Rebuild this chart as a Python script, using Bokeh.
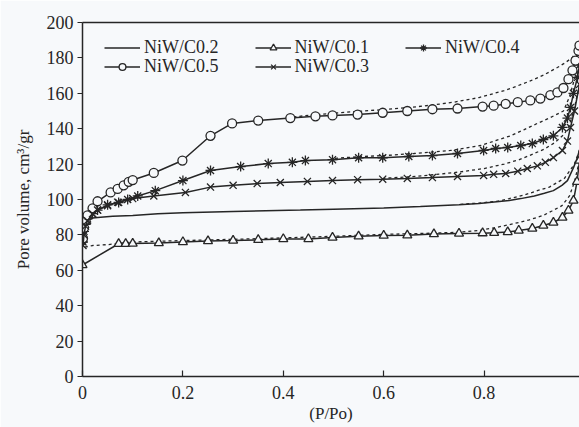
from bokeh.plotting import figure
from bokeh.models import Legend, LegendItem, LinearAxis, Range1d, FixedTicker
from bokeh.embed import file_html
from bokeh.resources import INLINE

# ---------------- data ----------------
c05_p = [0.001, 0.003, 0.006, 0.01, 0.02, 0.03, 0.056, 0.07, 0.082, 0.092, 0.10, 0.142, 0.199, 0.255, 0.298, 0.35, 0.414, 0.464, 0.498, 0.548, 0.598, 0.647, 0.697, 0.747, 0.797, 0.819, 0.843, 0.867, 0.892, 0.912, 0.932, 0.946, 0.958, 0.968, 0.976, 0.982, 0.988, 0.99]
c05_v = [78, 84, 88, 91, 95, 99, 104, 106, 108, 110, 111, 115, 122, 136, 143, 144.6, 146, 147, 147.5, 148, 149, 150, 151, 151.4, 152.5, 153, 154, 155, 156, 157, 159, 160.5, 163, 168, 173, 178.5, 184, 187]
c05_dp = [0.99, 0.985, 0.975, 0.96, 0.946, 0.92, 0.892, 0.86, 0.84, 0.79, 0.74, 0.7, 0.653, 0.6, 0.55, 0.5, 0.45, 0.414]
c05_dv = [187, 184, 180, 177, 174.6, 170.5, 167, 163.5, 161.5, 157.6, 155, 153.5, 152, 150.8, 149.8, 148.8, 147.5, 146.5]

c04_p = [0.001, 0.003, 0.006, 0.01, 0.02, 0.03, 0.05, 0.072, 0.09, 0.11, 0.145, 0.2, 0.255, 0.315, 0.37, 0.418, 0.444, 0.498, 0.55, 0.598, 0.65, 0.697, 0.747, 0.799, 0.823, 0.847, 0.873, 0.896, 0.918, 0.938, 0.956, 0.966, 0.972, 0.978, 0.986, 0.99]
c04_v = [76, 82, 86, 89, 92, 94, 97, 98.3, 100, 102, 105, 110.7, 116.4, 118.6, 120.3, 121, 122, 122.5, 123.6, 123.6, 124.3, 124.8, 126, 127.7, 128.8, 129.4, 130.5, 131.6, 133.9, 136, 140.7, 146, 152, 160, 169, 176]
c04_dp = [0.99, 0.98, 0.97, 0.958, 0.93, 0.906, 0.88, 0.853, 0.82, 0.793, 0.733, 0.66, 0.6, 0.55, 0.5]
c04_dv = [176, 168, 158, 150, 146, 143, 139.5, 136, 133, 130.5, 127.7, 126, 124.8, 124.2, 123.2]

c03_p = [0.001, 0.003, 0.006, 0.01, 0.02, 0.03, 0.05, 0.07, 0.1, 0.142, 0.205, 0.255, 0.3, 0.348, 0.394, 0.448, 0.498, 0.548, 0.598, 0.647, 0.697, 0.747, 0.799, 0.819, 0.843, 0.867, 0.886, 0.906, 0.922, 0.938, 0.956, 0.966, 0.972, 0.98, 0.99]
c03_v = [74, 80, 85, 88, 92, 94, 96.5, 98.5, 100.5, 102, 104, 107, 108, 109, 109.6, 110.2, 110.7, 111.2, 111.5, 111.9, 112.4, 113, 113.6, 114.2, 114.7, 116, 117.5, 119, 121, 123.7, 127.7, 133, 140.7, 150, 165]
c03_dp = [0.99, 0.98, 0.97, 0.96, 0.94, 0.92, 0.9, 0.87, 0.84, 0.8, 0.75, 0.7, 0.65, 0.6]
c03_dv = [165, 152, 142, 137, 132, 128.5, 126, 122.5, 120, 117.5, 115.5, 114, 112.8, 112]

c02_p = [0.0, 0.003, 0.006, 0.01, 0.02, 0.036, 0.06, 0.1, 0.15, 0.2, 0.3, 0.434, 0.5, 0.6, 0.673, 0.75, 0.79, 0.85, 0.873, 0.9, 0.92, 0.938, 0.955, 0.966, 0.978, 0.985, 0.99]
c02_v = [78, 83, 86, 88, 89.5, 90, 90.5, 91, 92, 92.5, 93.2, 94, 94.5, 95.2, 96, 97, 97.7, 99.5, 100.5, 102, 103.5, 105, 108, 110.7, 118, 123, 128]
c02_dp = [0.99, 0.98, 0.96, 0.93, 0.906, 0.88, 0.85, 0.827, 0.79, 0.75]
c02_dv = [128, 120, 112, 107, 105, 102.5, 100.5, 99, 98, 97.2]

c01_p = [0.0, 0.072, 0.086, 0.1, 0.152, 0.2, 0.25, 0.3, 0.35, 0.4, 0.45, 0.498, 0.55, 0.6, 0.647, 0.7, 0.75, 0.797, 0.82, 0.847, 0.869, 0.896, 0.918, 0.938, 0.956, 0.968, 0.978, 0.985, 0.99]
c01_v = [63, 75, 75, 75.1, 75.4, 76, 76.5, 76.8, 77.2, 77.7, 77.7, 78.5, 79.2, 79.6, 79.8, 80.5, 80.8, 81, 81.2, 81.6, 82.5, 83.6, 85.3, 87, 89.8, 93.8, 99.4, 110, 122]
c01_dp = [0.99, 0.98, 0.97, 0.955, 0.935, 0.918, 0.89, 0.86, 0.82, 0.79, 0.75, 0.7, 0.6, 0.5, 0.4, 0.3, 0.2, 0.1, 0.05, 0.02, 0.003]
c01_dv = [122, 110, 102, 96.5, 93.5, 91, 88.5, 86.4, 84, 82.5, 81.5, 81, 80.3, 79.2, 78.3, 77.5, 76.8, 76, 74.5, 74, 73]

x_ticks = [0, 0.2, 0.4, 0.6, 0.8]
y_ticks = [0, 20, 40, 60, 80, 100, 120, 140, 160, 180, 200]

# ---------------- style ----------------
INK = "#262626"
BG = "#f7f9fb"
FONT = "Liberation Serif"

p = figure(width=579, height=427, output_backend="svg", toolbar_location=None,
           x_range=Range1d(0, 0.99), y_range=Range1d(0, 200),
           min_border_left=82, min_border_right=0, min_border_top=22, min_border_bottom=51)
p.background_fill_color = BG
p.border_fill_color = BG
p.outline_line_color = None
p.grid.visible = False

for ax in (p.xaxis[0], p.yaxis[0]):
    ax.axis_line_color = INK
    ax.axis_line_width = 1.5
    ax.major_tick_line_color = INK
    ax.major_tick_line_width = 1.2
    ax.minor_tick_line_color = None
    ax.major_label_text_font = FONT
    ax.major_label_text_font_size = "18px"
    ax.major_label_text_color = INK
    ax.axis_label_text_font = FONT
    ax.axis_label_text_font_size = "17px"
    ax.axis_label_text_font_style = "normal"
    ax.axis_label_text_color = INK

p.xaxis.ticker = FixedTicker(ticks=x_ticks)
p.yaxis.ticker = FixedTicker(ticks=y_ticks)
p.xaxis.major_label_overrides = {0: "0"}
p.xaxis.major_tick_in = 6
p.xaxis.major_tick_out = 0
p.xaxis.major_label_standoff = 9
p.xaxis.axis_label = "(P/Po)"
p.xaxis.axis_label_standoff = 2
p.yaxis.major_tick_in = 0
p.yaxis.major_tick_out = 5
p.yaxis.major_label_standoff = 4
p.yaxis.axis_label = "Pore volume, cm³/gr"
p.yaxis.axis_label_standoff = 11

top = LinearAxis(ticker=FixedTicker(ticks=[]), axis_line_color=INK, axis_line_width=1.5,
                 major_label_text_font_size="0px", major_tick_line_color=None,
                 minor_tick_line_color=None)
p.add_layout(top, "above")

LW = 1.5
DASH = "3 3"

def series(ap, av, dp, dv, marker, size):
    p.line(dp, dv, line_color=INK, line_width=1.3, line_dash=DASH)
    l = p.line(ap, av, line_color=INK, line_width=LW)
    if marker is None:
        return [l]
    s = p.scatter(ap, av, marker=marker, size=size, line_color=INK, line_width=1.3,
                  fill_color=BG)
    return [l, s]

r02 = series(c02_p, c02_v, c02_dp, c02_dv, None, 0)
r01 = series(c01_p, c01_v, c01_dp, c01_dv, "triangle", 9)
r04 = series(c04_p, c04_v, c04_dp, c04_dv, "asterisk", 10)
r05 = series(c05_p, c05_v, c05_dp, c05_dv, "circle", 9)
r03 = series(c03_p, c03_v, c03_dp, c03_dv, "x", 10)

def make_legend(items, loc):
    lg = Legend(items=[LegendItem(label=t, renderers=r) for t, r in items],
                orientation="horizontal", location=loc,
                background_fill_alpha=0, border_line_color=None,
                label_text_font=FONT, label_text_font_size="18px", label_text_color=INK,
                glyph_width=36, glyph_height=17, label_height=17, label_standoff=4,
                spacing=36, padding=0, margin=0)
    p.add_layout(lg, "center")

make_legend([("NiW/C0.2", r02), ("NiW/C0.1", r01), ("NiW/C0.4", r04)], (22, 318))
make_legend([("NiW/C0.5", r05), ("NiW/C0.3", r03)], (22, 299))

open("out.html", "w").write(file_html(p, INLINE))
